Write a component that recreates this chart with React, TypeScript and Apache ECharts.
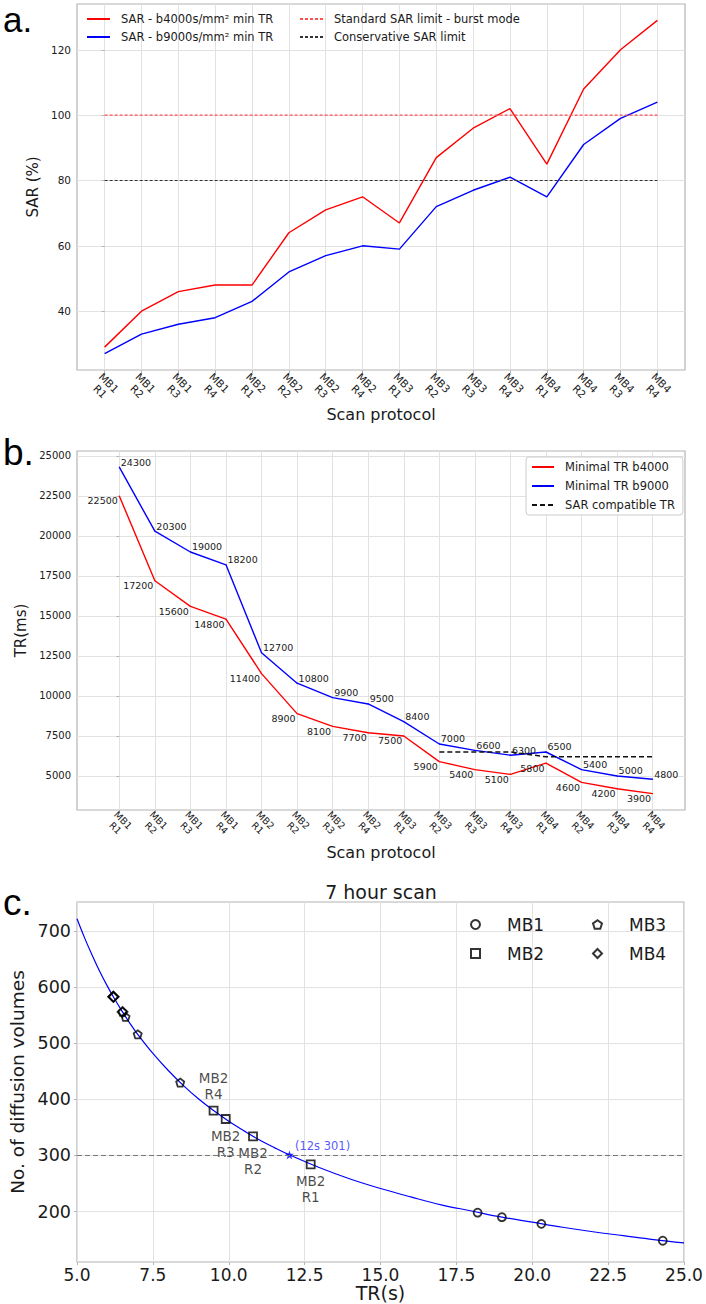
import React, { useEffect, useRef } from "react";
import * as echarts from "echarts";

// Scan protocols (multiband factor / in-plane acceleration)
const protocols = [
  "MB1\nR1", "MB1\nR2", "MB1\nR3", "MB1\nR4",
  "MB2\nR1", "MB2\nR2", "MB2\nR3", "MB2\nR4",
  "MB3\nR1", "MB3\nR2", "MB3\nR3", "MB3\nR4",
  "MB4\nR1", "MB4\nR2", "MB4\nR3", "MB4\nR4",
];
const protocolTicks = [0, 1, 2, 3, 4, 5, 6, 7, 8, 9, 10, 11, 12, 13, 14, 15];

// Panel a: SAR at minimal TR (%)
const sarB4000 = [29, 40, 46, 48, 48, 64, 71, 75, 67, 87, 96, 102, 85, 108, 120, 129];
const sarB9000 = [27, 33, 36, 38, 43, 52, 57, 60, 59, 72, 77, 81, 75, 91, 99, 104];
const standardSarLimit = 100;
const conservativeSarLimit = 80;
const sarTicks = [40, 60, 80, 100, 120];

// Panel b: minimal TR (ms)
const trB4000 = [22500, 17200, 15600, 14800, 11400, 8900, 8100, 7700, 7500, 5900, 5400, 5100, 5800, 4600, 4200, 3900];
const trB9000 = [24300, 20300, 19000, 18200, 12700, 10800, 9900, 9500, 8400, 7000, 6600, 6300, 6500, 5400, 5000, 4800];
const sarCompatibleTR: (number | null)[] = [null, null, null, null, null, null, null, null, null, 6500, 6500, 6500, 6200, 6200, 6200, 6200];
const trTicks = [5000, 7500, 10000, 12500, 15000, 17500, 20000, 22500, 25000];

// Panel c: number of diffusion volumes in a 7 hour scan
const curveTR = [5, 5.25, 5.5, 5.75, 6, 6.25, 6.5, 6.75, 7, 7.5, 8, 8.5, 9, 9.5, 10, 10.5, 11, 11.5, 12, 13, 14, 15, 16, 17, 18, 19, 20, 21, 22, 23, 24, 25];
const curveVolumes = [722, 688, 657, 628, 602, 578, 556, 535, 516, 482, 452, 425, 401, 380, 361, 344, 328, 314, 301, 278, 258, 241, 226, 212, 201, 190, 181, 172, 164, 157, 150, 144];
const mb1TR = [24.3, 20.3, 19.0, 18.2];
const mb1Volumes = [148, 178, 190, 198];
const mb2TR = [12.7, 10.8, 9.9, 9.5];
const mb2Volumes = [284, 334, 365, 380];
const mb2Labels = ["MB2\nR1", "MB2\nR2", "MB2\nR3", "MB2\nR4"];
const mb3TR = [8.4, 7.0, 6.6, 6.5];
const mb3Volumes = [430, 516, 547, 556];
const mb4TR = [6.5, 6.2, 6.2, 6.2];
const mb4Volumes = [556, 583, 583, 583];
const crossingTR = 12;
const crossingVolumes = 301;
const volumeLimit = 300;
const volumeTicks = [200, 300, 400, 500, 600, 700];

const FONT = "DejaVu Sans";
const INK = "#1a1a1a";
const GRID_LINE = "#e2e2e2";
const FRAME = "#b4b4b4";

const PENTAGON = "path://M0,-1L0.951,-0.309L0.588,0.809L-0.588,0.809L-0.951,-0.309Z";
const STAR = "path://M0,-10L2.35,-3.24L9.51,-3.09L3.8,1.24L5.88,8.09L0,4L-5.88,8.09L-3.8,1.24L-9.51,-3.09L-2.35,-3.24Z";

const pairs = (xs: number[], ys: (number | null)[]) =>
  ys.map((y, i) => [xs[i], y]).filter((p) => p[1] !== null);

function protocolAxis(gridIndex: number, min: number, max: number, fontSize: number, margin: number, nameGap: number) {
  return {
    type: "value",
    gridIndex,
    min,
    max,
    axisLine: { show: false },
    axisTick: { show: true, length: 3, customValues: protocolTicks, lineStyle: { color: FRAME } },
    splitLine: { show: true, lineStyle: { color: GRID_LINE, width: 1 } },
    axisLabel: {
      customValues: protocolTicks,
      formatter: (v: number) => protocols[Math.round(v)],
      rotate: -45,
      align: "center",
      verticalAlign: "middle",
      margin,
      fontSize,
      lineHeight: fontSize * 1.15,
      color: INK,
      fontFamily: FONT,
    },
    name: "Scan protocol",
    nameLocation: "middle",
    nameGap,
    nameTextStyle: { fontSize: 16, color: INK, fontFamily: FONT },
  };
}

function valueAxis(gridIndex: number, min: number, max: number, ticks: number[], fontSize: number, name: string, nameGap: number, nameSize: number) {
  return {
    type: "value",
    gridIndex,
    min,
    max,
    axisLine: { show: false },
    axisTick: { show: true, length: 3, customValues: ticks, lineStyle: { color: FRAME } },
    splitLine: { show: true, lineStyle: { color: GRID_LINE, width: 1 } },
    axisLabel: {
      customValues: ticks,
      formatter: (v: number) => String(v),
      fontSize,
      color: INK,
      fontFamily: FONT,
      margin: 6,
    },
    name,
    nameLocation: "middle",
    nameRotate: 90,
    nameGap,
    nameTextStyle: { fontSize: nameSize, color: INK, fontFamily: FONT },
  };
}

const gridBox = {
  show: true,
  borderColor: FRAME,
  borderWidth: 1.2,
  backgroundColor: "#fff",
  containLabel: false,
  outerBoundsMode: "none",
};

// Line legends show only the line stroke, no marker
const lineLegend = {
  orient: "vertical",
  itemWidth: 23,
  itemHeight: 10,
  itemStyle: { opacity: 0 },
  textStyle: { fontSize: 11.5, color: INK, fontFamily: FONT, padding: [0, 0, 0, 6] },
};

export default function App() {
  const ref = useRef<HTMLDivElement>(null);

  useEffect(() => {
    if (!ref.current) return;
    const chart = echarts.init(ref.current, null, { renderer: "svg" });

    const hollow = { color: "rgba(0,0,0,0)", borderColor: "#000", borderWidth: 1.8 };

    const option: any = {
      animation: false,
      backgroundColor: "#fff",
      textStyle: { fontFamily: FONT, color: INK },
      grid: [
        { ...gridBox, left: 77, top: 4, width: 608, height: 366 },
        { ...gridBox, left: 77, top: 451, width: 608, height: 359 },
        { ...gridBox, left: 77, top: 902, width: 607, height: 360 },
      ],
      xAxis: [
        protocolAxis(0, -0.75, 15.75, 10.5, 17, 36),
        protocolAxis(1, -1.19, 15.91, 9.5, 14, 34),
        {
          type: "value",
          gridIndex: 2,
          min: 5,
          max: 25,
          interval: 2.5,
          axisLine: { show: false },
          axisTick: { show: true, length: 3, lineStyle: { color: FRAME } },
          splitLine: { show: true, lineStyle: { color: GRID_LINE, width: 1 } },
          axisLabel: {
            formatter: (v: number) => v.toFixed(1),
            fontSize: 17,
            color: INK,
            fontFamily: FONT,
            margin: 4,
            showMaxLabel: true,
            showMinLabel: true,
          },
          name: "TR(s)",
          nameLocation: "middle",
          nameGap: 21,
          nameTextStyle: { fontSize: 19, color: INK, fontFamily: FONT },
        },
      ],
      yAxis: [
        valueAxis(0, 22, 134, sarTicks, 10.5, "SAR (%)", 27, 15),
        valueAxis(1, 2875, 25312, trTicks, 10, "TR(ms)", 40, 15),
        valueAxis(2, 110, 752, volumeTicks, 17.5, "No. of diffusion volumes", 44, 18.5),
      ],
      legend: [
        {
          ...lineLegend,
          data: ["SAR - b4000s/mm² min TR", "SAR - b9000s/mm² min TR"],
          left: 86,
          top: 13,
          padding: 0,
          itemGap: 6,
        },
        {
          ...lineLegend,
          data: ["Standard SAR limit - burst mode", "Conservative SAR limit"],
          left: 299,
          top: 13,
          padding: 0,
          itemGap: 6,
        },
        {
          ...lineLegend,
          data: ["Minimal TR b4000", "Minimal TR b9000", "SAR compatible TR"],
          left: 526,
          top: 457,
          padding: [4, 8, 4, 5],
          borderColor: "#cccccc",
          borderWidth: 1,
          borderRadius: 3,
          backgroundColor: "#fff",
          itemWidth: 22,
          itemGap: 7,
        },
        {
          data: ["MB1", "MB2"],
          left: 470,
          top: 916,
          orient: "vertical",
          padding: 0,
          itemWidth: 9,
          itemHeight: 9,
          itemGap: 12,
          textStyle: { fontSize: 17, color: INK, fontFamily: FONT, padding: [0, 0, 0, 22] },
        },
        {
          data: ["MB3", "MB4"],
          left: 592,
          top: 916,
          orient: "vertical",
          padding: 0,
          itemWidth: 9,
          itemHeight: 9,
          itemGap: 12,
          textStyle: { fontSize: 17, color: INK, fontFamily: FONT, padding: [0, 0, 0, 22] },
        },
      ],
      series: [
        // Panel a
        {
          name: "SAR - b4000s/mm² min TR",
          type: "line",
          xAxisIndex: 0,
          yAxisIndex: 0,
          data: pairs(protocolTicks, sarB4000),
          symbol: "none",
          lineStyle: { color: "#ff0000", width: 1.4 },
          itemStyle: { color: "#ff0000" },
        },
        {
          name: "SAR - b9000s/mm² min TR",
          type: "line",
          xAxisIndex: 0,
          yAxisIndex: 0,
          data: pairs(protocolTicks, sarB9000),
          symbol: "none",
          lineStyle: { color: "#0000ff", width: 1.4 },
          itemStyle: { color: "#0000ff" },
        },
        {
          name: "Standard SAR limit - burst mode",
          type: "line",
          xAxisIndex: 0,
          yAxisIndex: 0,
          data: [[protocolTicks[0], standardSarLimit], [protocolTicks[15], standardSarLimit]],
          symbol: "none",
          lineStyle: { color: "#ff5050", width: 1.1, type: [3, 2] },
          itemStyle: { color: "#ff5050" },
        },
        {
          name: "Conservative SAR limit",
          type: "line",
          xAxisIndex: 0,
          yAxisIndex: 0,
          data: [[protocolTicks[0], conservativeSarLimit], [protocolTicks[15], conservativeSarLimit]],
          symbol: "none",
          lineStyle: { color: "#333333", width: 1.1, type: [3, 2] },
          itemStyle: { color: "#333333" },
        },
        // Panel b
        {
          name: "Minimal TR b4000",
          type: "line",
          xAxisIndex: 1,
          yAxisIndex: 1,
          data: pairs(protocolTicks, trB4000),
          symbol: "circle",
          symbolSize: 1,
          lineStyle: { color: "#ff0000", width: 1.4 },
          itemStyle: { color: "#ff0000" },
          label: {
            show: true,
            position: "left",
            distance: 1,
            align: "right",
            verticalAlign: "top",
            fontSize: 9.5,
            color: INK,
            fontFamily: FONT,
            formatter: (p: any) => String(p.value[1]),
          },
        },
        {
          name: "Minimal TR b9000",
          type: "line",
          xAxisIndex: 1,
          yAxisIndex: 1,
          data: pairs(protocolTicks, trB9000),
          symbol: "circle",
          symbolSize: 1,
          lineStyle: { color: "#0000ff", width: 1.4 },
          itemStyle: { color: "#0000ff" },
          label: {
            show: true,
            position: "right",
            distance: 1,
            align: "left",
            verticalAlign: "bottom",
            fontSize: 9.5,
            color: INK,
            fontFamily: FONT,
            formatter: (p: any) => String(p.value[1]),
          },
        },
        {
          name: "SAR compatible TR",
          type: "line",
          xAxisIndex: 1,
          yAxisIndex: 1,
          data: pairs(protocolTicks, sarCompatibleTR),
          symbol: "none",
          lineStyle: { color: "#111111", width: 1.5, type: [5, 3] },
          itemStyle: { color: "#111111" },
        },
        // Panel c
        {
          name: "volumes",
          type: "line",
          xAxisIndex: 2,
          yAxisIndex: 2,
          data: pairs(curveTR, curveVolumes),
          smooth: 0.4,
          symbol: "none",
          lineStyle: { color: "#0000ff", width: 1.2 },
          itemStyle: { color: "#0000ff" },
          markLine: {
            silent: true,
            symbol: ["none", "none"],
            label: { show: false },
            lineStyle: { color: "#777777", width: 1.1, type: [5, 3] },
            data: [{ yAxis: volumeLimit }],
          },
          z: 2,
        },
        {
          name: "MB1",
          type: "scatter",
          xAxisIndex: 2,
          yAxisIndex: 2,
          data: pairs(mb1TR, mb1Volumes),
          symbol: "circle",
          symbolSize: 8,
          itemStyle: hollow,
          z: 3,
        },
        {
          name: "MB2",
          type: "scatter",
          xAxisIndex: 2,
          yAxisIndex: 2,
          data: mb2TR.map((tr, i) => ({
            value: [tr, mb2Volumes[i]],
            label: {
              show: true,
              formatter: mb2Labels[i],
              position: i === 3 ? "top" : "bottom",
              distance: 4,
              fontSize: 13.5,
              lineHeight: 16,
              color: INK,
              fontFamily: FONT,
            },
          })),
          symbol: "rect",
          symbolSize: 8,
          itemStyle: hollow,
          z: 3,
        },
        {
          name: "MB3",
          type: "scatter",
          xAxisIndex: 2,
          yAxisIndex: 2,
          data: pairs(mb3TR, mb3Volumes),
          symbol: PENTAGON,
          symbolSize: 8,
          itemStyle: hollow,
          z: 3,
        },
        {
          name: "MB4",
          type: "scatter",
          xAxisIndex: 2,
          yAxisIndex: 2,
          data: pairs(mb4TR, mb4Volumes),
          symbol: "diamond",
          symbolSize: 10,
          itemStyle: hollow,
          z: 3,
        },
        {
          name: "crossing",
          type: "scatter",
          xAxisIndex: 2,
          yAxisIndex: 2,
          data: [[crossingTR, crossingVolumes]],
          symbol: STAR,
          symbolSize: 9,
          itemStyle: { color: "#0000ff" },
          label: {
            show: true,
            position: "right",
            align: "left",
            verticalAlign: "bottom",
            offset: [-4, -3],
            formatter: `(${crossingTR}s ${crossingVolumes})`,
            fontSize: 11.5,
            color: "#2a2aff",
            fontFamily: FONT,
          },
          z: 4,
        },
      ],
      graphic: [
        { type: "text", left: 3, top: 2, style: { text: "a.", fontSize: 35, fontFamily: "Liberation Sans", fill: "#000" } },
        { type: "text", left: 3, top: 434, style: { text: "b.", fontSize: 37, fontFamily: "Liberation Sans", fill: "#000" } },
        { type: "text", left: 3, top: 884, style: { text: "c.", fontSize: 37, fontFamily: "Liberation Sans", fill: "#000" } },
        {
          type: "text",
          x: 381,
          y: 892,
          style: { text: "7 hour scan", fontSize: 19, fontFamily: FONT, fill: INK, align: "center", verticalAlign: "middle" },
        },
      ],
    };

    chart.setOption(option);
    return () => chart.dispose();
  }, []);

  return (
    <div
      ref={ref}
      style={{ position: "absolute", left: 0, top: 0, width: 706, height: 1304, background: "#fff" }}
    />
  );
}
